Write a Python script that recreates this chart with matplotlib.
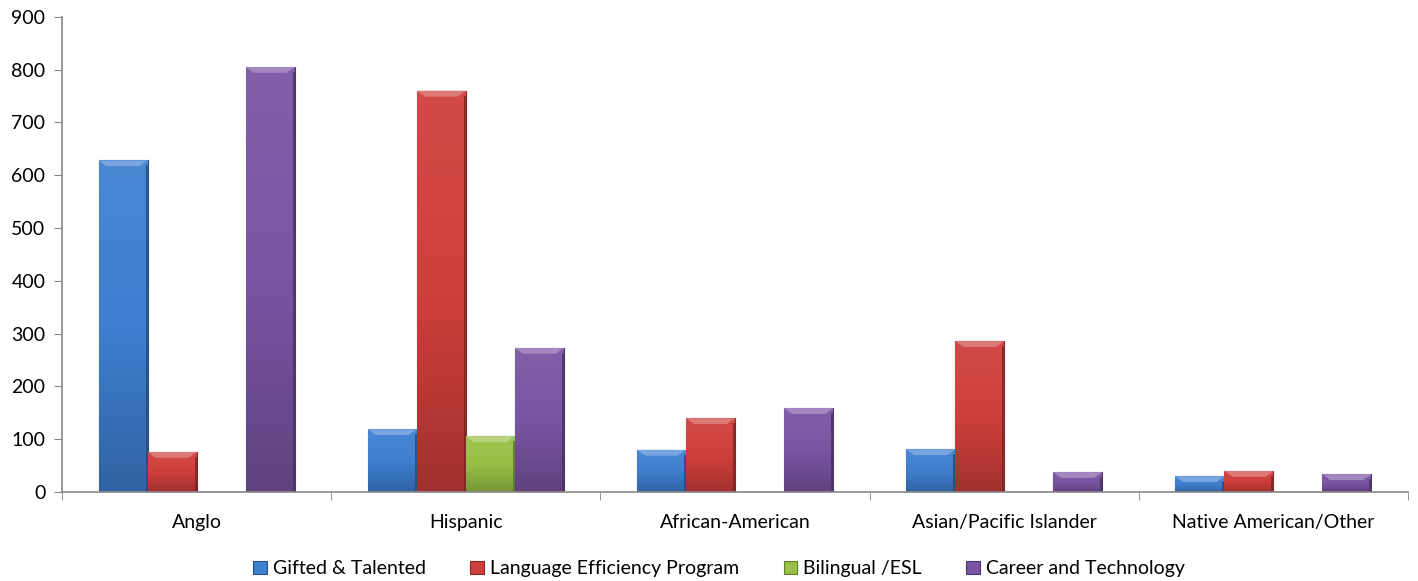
import numpy as np
import matplotlib.pyplot as plt
from matplotlib.colors import LinearSegmentedColormap, to_rgb

# data
groups = ["Anglo", "Hispanic", "African-American", "Asian/Pacific Islander", "Native American/Other"]
programs = ["Gifted & Talented", "Language Efficiency Program", "Bilingual /ESL", "Career and Technology"]
gifted = [628, 119, 80, 81, 30]
language = [76, 760, 140, 286, 40]
bilingual = [0, 106, 0, 0, 0]
career = [805, 273, 159, 38, 34]
series = [gifted, language, bilingual, career]
colors = ["#3F7FD0", "#CF3F3C", "#98C046", "#7A55A3"]

plt.rcParams["font.family"] = ["Lato", "DejaVu Sans"]

fig = plt.figure(figsize=(14.18, 5.81), dpi=100)
ax = fig.add_axes([0.0437, 0.153, 0.9493, 0.818])

x = np.arange(len(groups))
w = 0.182


def shade(base, light):
    r, g, b = to_rgb(base)
    if light > 0:
        return (r + (1 - r) * light, g + (1 - g) * light, b + (1 - b) * light)
    return (r * (1 + light), g * (1 + light), b * (1 + light))


for i, (vals, c) in enumerate(zip(series, colors)):
    pos = x + (i - 1.5) * w
    bars = ax.bar(pos, vals, width=w, color=c, edgecolor=shade(c, -0.35),
                  linewidth=0.8, label=programs[i], zorder=2)
    cmap = LinearSegmentedColormap.from_list("g", [shade(c, -0.22), c, shade(c, 0.06)])
    for b, v in zip(bars, vals):
        if v <= 0:
            ax.plot([b.get_x(), b.get_x() + w], [0, 0], color=shade(c, -0.3), lw=1, zorder=3)
            continue
        x0 = b.get_x()
        # vertical shading inside each bar
        grad = np.linspace(0, 1, 100).reshape(-1, 1)
        im = ax.imshow(grad, cmap=cmap, origin="lower", aspect="auto",
                       extent=[x0, x0 + w, 0, v], zorder=2.5)
        im.set_clip_path(b)
        # bevelled top edge
        cap = min(v, 11)
        ax.fill([x0, x0 + w, x0 + w - 0.03, x0 + 0.03], [v, v, v - cap, v - cap],
                color=shade(c, 0.3), lw=0, zorder=3)
        ax.plot([x0 + w * 0.98, x0 + w * 0.98], [0, v - cap], color=shade(c, -0.4), lw=1.2, zorder=3)

ax.set_xlim(-0.5, len(groups) - 0.5)
ax.set_ylim(0, 900)
ax.set_yticks(np.arange(0, 901, 100))
ax.set_xticks(x)
ax.set_xticklabels(groups)
ax.set_xticks(np.arange(-0.5, len(groups)), minor=True)
ax.tick_params(axis="x", which="major", length=0, pad=16, labelsize=14)
ax.tick_params(axis="x", which="minor", length=6, color="#888888")
ax.tick_params(axis="y", length=6, color="#888888", labelsize=14, pad=6)
for s in ["top", "right"]:
    ax.spines[s].set_visible(False)
for s in ["left", "bottom"]:
    ax.spines[s].set_color("#888888")
    ax.spines[s].set_linewidth(1.2)
ax.spines["bottom"].set_zorder(4)

handles, labels = ax.get_legend_handles_labels()
fig.legend(handles, labels, loc="center", bbox_to_anchor=(0.507, 0.021), ncol=4, frameon=False,
           fontsize=14, handlelength=0.7, handleheight=0.7, handletextpad=0.3,
           columnspacing=2.3, borderpad=0)

fig.savefig("out.png", dpi=100)
